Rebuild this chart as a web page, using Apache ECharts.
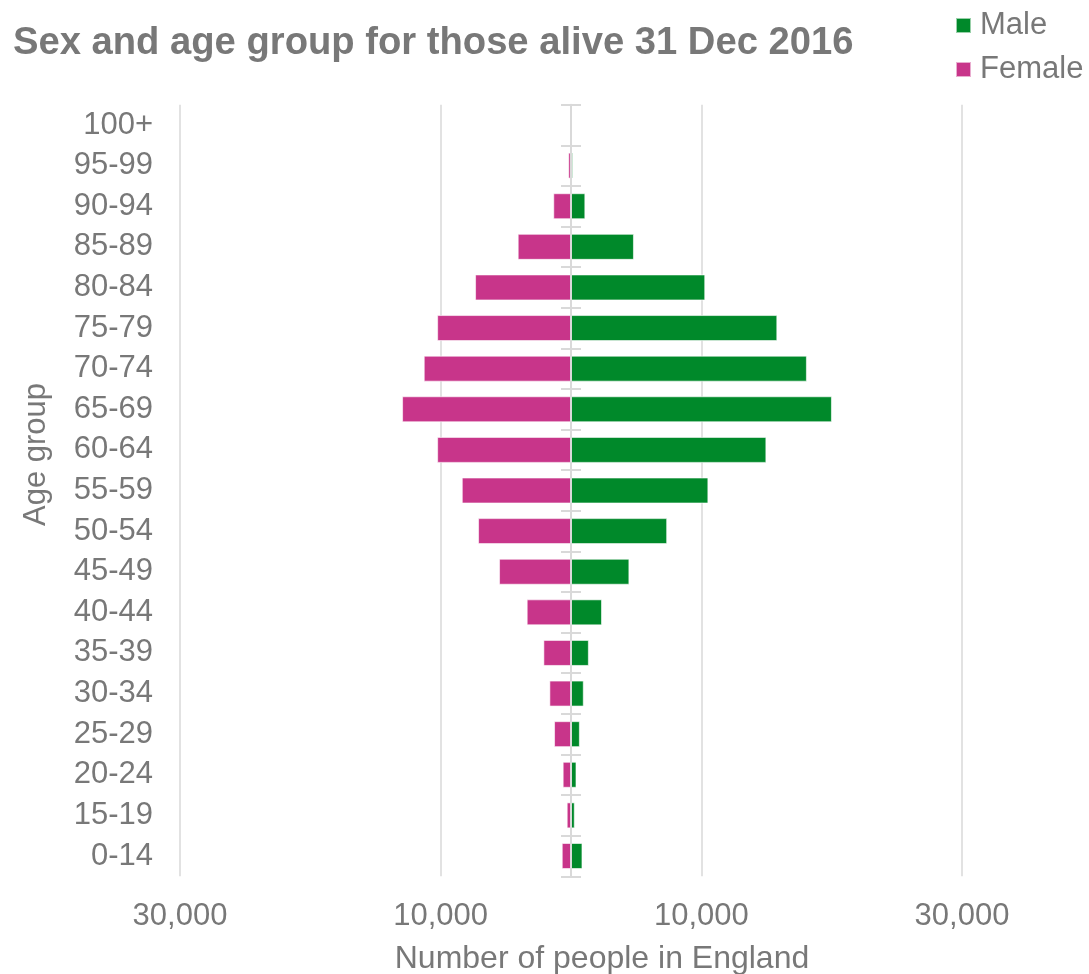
<!DOCTYPE html>
<html>
<head>
<meta charset="utf-8">
<script src="https://cdn.jsdelivr.net/npm/echarts@6/dist/echarts.min.js"></script>
<style>
html,body{margin:0;padding:0;background:#fff;}
#chart{width:1089px;height:974px;}
</style>
</head>
<body>
<div id="chart"></div>
<script>
var ageGroups = ['0-14','15-19','20-24','25-29','30-34','35-39','40-44','45-49','50-54','55-59','60-64','65-69','70-74','75-79','80-84','85-89','90-94','95-99','100+'];
var maleValues = [880, 290, 420, 680, 980, 1370, 2380, 4480, 7380, 10540, 14990, 20020, 18100, 15830, 10300, 4830, 1100, 150, 0];
var femaleValues = [710, 330, 640, 1300, 1660, 2120, 3400, 5520, 7130, 8380, 10270, 12960, 11300, 10270, 7360, 4090, 1360, 210, 0];
var xTicks = { min: -30000, max: 30000, interval: 20000 };

var FONT = "'Liberation Sans', Arial, sans-serif";
var TXT = '#787878';
var GRID = '#d9d9d9';
var MALE = '#00892A';
var FEMALE = '#C8358A';

var chart = echarts.init(document.getElementById('chart'), null, {renderer: 'canvas'});

function fmt(v) {
  return Math.abs(v).toString().replace(/\B(?=(\d{3})+(?!\d))/g, ',');
}

var catAxisBase = {
  type: 'category',
  data: ageGroups,
  boundaryGap: true
};

chart.setOption({
  animation: false,
  textStyle: { fontFamily: FONT },
  title: {
    text: 'Sex and age group for those alive 31 Dec 2016',
    left: 13, top: 24, padding: 0,
    textStyle: { fontFamily: FONT, fontSize: 38.2, fontWeight: 'bold', color: TXT }
  },
  legend: {
    data: ['Male', 'Female'],
    orient: 'vertical',
    left: 955, top: 10, padding: 0,
    itemWidth: 15, itemHeight: 15, itemGap: 13,
    icon: 'rect',
    textStyle: { fontFamily: FONT, fontSize: 31, color: TXT, padding: [0, 0, 0, 4] }
  },
  grid: { left: 180, right: 127, top: 104.7, bottom: 97.7, containLabel: false, outerBoundsMode: 'none' },
  xAxis: {
    type: 'value',
    min: xTicks.min, max: xTicks.max, interval: xTicks.interval,
    axisLine: { show: false },
    axisTick: { show: false },
    splitLine: { show: true, lineStyle: { color: GRID, width: 1.5 } },
    axisLabel: { formatter: fmt, fontFamily: FONT, fontSize: 31, color: TXT, margin: 25 },
    name: 'Number of people in England',
    nameLocation: 'middle',
    nameGap: 67,
    nameTextStyle: { fontFamily: FONT, fontSize: 32, color: TXT, padding: [0, 0, 0, 62] }
  },
  yAxis: [
    Object.assign({}, catAxisBase, {
      position: 'left',
      axisLine: { show: false, onZero: false },
      axisTick: { show: false },
      splitLine: { show: false },
      axisLabel: { interval: 0, fontFamily: FONT, fontSize: 31, color: TXT, margin: 27, padding: [4, 0, 0, 0] },
      name: 'Age group',
      nameLocation: 'middle',
      nameRotate: 90,
      nameGap: 128,
      nameTextStyle: { fontFamily: FONT, fontSize: 31, color: TXT, padding: [0, 0, 0, 72] }
    }),
    Object.assign({}, catAxisBase, {
      position: 'left',
      z: 5,
      axisLine: { show: true, onZero: true, onZeroAxisIndex: 0, lineStyle: { color: GRID, width: 2 } },
      axisTick: { show: true, interval: 0, length: 10, lineStyle: { color: GRID, width: 2 } },
      axisLabel: { show: false, interval: 0 },
      splitLine: { show: false }
    }),
    Object.assign({}, catAxisBase, {
      position: 'left',
      z: 5,
      axisLine: { show: false, onZero: true, onZeroAxisIndex: 0 },
      axisTick: { show: true, interval: 0, inside: true, length: 10, lineStyle: { color: GRID, width: 2 } },
      axisLabel: { show: false, interval: 0 },
      splitLine: { show: false }
    })
  ],
  series: [
    {
      name: 'Male',
      type: 'bar',
      yAxisIndex: 0,
      data: maleValues,
      barWidth: 26,
      barGap: '-100%',
      itemStyle: { color: MALE, borderColor: 'rgba(255,255,255,0.6)', borderWidth: 1 }
    },
    {
      name: 'Female',
      type: 'bar',
      yAxisIndex: 0,
      data: femaleValues.map(function (v) { return -v; }),
      barWidth: 26,
      barGap: '-100%',
      itemStyle: { color: FEMALE, borderColor: 'rgba(255,255,255,0.6)', borderWidth: 1 }
    }
  ]
});
</script>
</body>
</html>
